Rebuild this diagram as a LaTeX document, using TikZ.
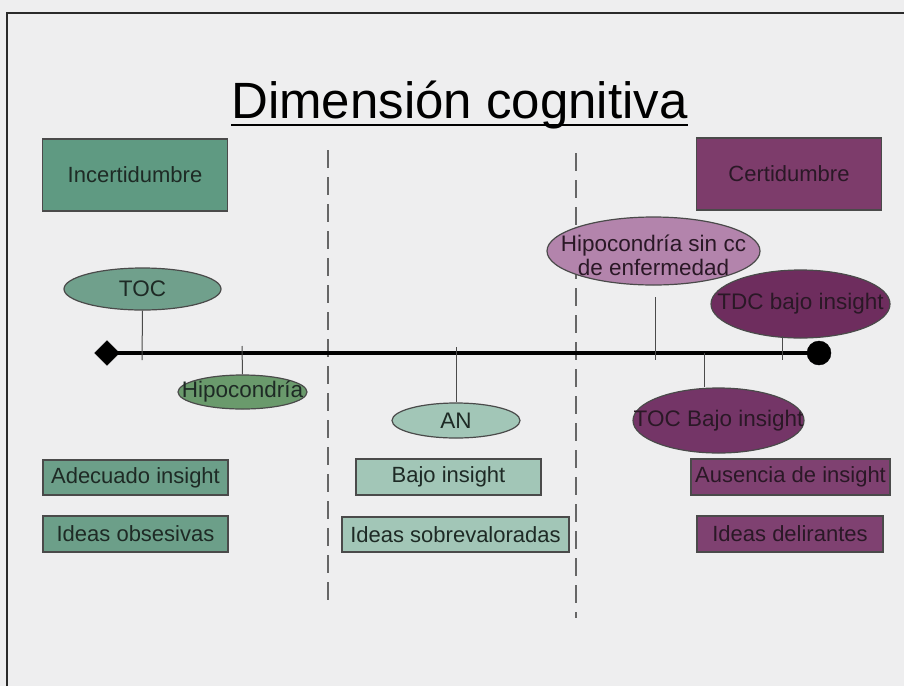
\documentclass[tikz,border=0pt]{standalone}
\usepackage{fontspec}
\setmainfont{Liberation Sans}
\usetikzlibrary{shapes.geometric}
\definecolor{bg}{HTML}{EEEEEF}
\definecolor{frameline}{HTML}{2A2A2A}
\definecolor{edgegray}{HTML}{4A4A4A}
\definecolor{dashgray}{HTML}{666666}
\definecolor{greenbox}{HTML}{5F9A82}
\definecolor{greenrow}{HTML}{6C9F89}
\definecolor{greentoc}{HTML}{70A08C}
\definecolor{greenhip}{HTML}{6A9A6C}
\definecolor{tealpale}{HTML}{A2C6B7}
\definecolor{plumbox}{HTML}{7D3C6B}
\definecolor{plumpale}{HTML}{B384AC}
\definecolor{plumdark}{HTML}{6E2D5E}
\definecolor{plummid}{HTML}{743567}
\definecolor{plumrow}{HTML}{7F4171}
\definecolor{greentext}{HTML}{1E2A25}
\definecolor{plumtext}{HTML}{2A1826}
\begin{document}
\begin{tikzpicture}[x=1pt,y=-1pt,
  box/.style={rectangle, draw=edgegray, line width=1.2pt, inner sep=0pt,
    font=\fontsize{22}{26}\selectfont},
  oval/.style={ellipse, draw=edgegray, line width=1.2pt, inner sep=0pt},
  ovaltext/.style={font=\fontsize{22.5}{24}\selectfont, inner sep=0pt, align=center},
  link/.style={draw=edgegray, line width=1pt},
  divider/.style={draw=dashgray, line width=2.4pt, dash pattern=on 18pt off 9pt},
  endmark/.style={fill=black, draw=black, inner sep=0pt, minimum size=24pt}]

% page and frame
\fill[bg] (0,0) rectangle (904,686);
\useasboundingbox (0,0) rectangle (904,686);
\draw[frameline, line width=2pt] (7,686) -- (7,13) -- (904,13);

% title
\node[inner sep=0pt, anchor=base, font=\fontsize{51}{56}\selectfont, text=black]
  (title) at (459.5,118) {Dimensión cognitiva};
\draw[black, line width=2.5pt] ([yshift=-7pt]title.base west) -- ([yshift=-7pt]title.base east);

% vertical dividers
\coordinate (d1top) at (328,150);
\coordinate (d1bot) at (328,608);
\coordinate (d2top) at (576,153);
\coordinate (d2bot) at (576,618);
\draw[divider] (d1top) -- (d1bot);
\draw[divider] (d2top) -- (d2bot);

% extremes
\node[box, fill=greenbox, text=greentext, minimum width=185pt, minimum height=72pt]
  (inc) at (135,175) {Incertidumbre};
\node[box, fill=plumbox, text=plumtext, minimum width=185pt, minimum height=72pt]
  (cert) at (789,174) {Certidumbre};

% axis
\node[endmark, diamond, minimum size=25pt] (left) at (107,353) {};
\node[endmark, circle] (right) at (819,353) {};
\draw[black, line width=4.5pt] (left.center) -- (right.center);

% points on the axis
\coordinate (pToc) at (142,360);
\coordinate (pHip) at (242,346);
\coordinate (pAn) at (456,347);
\coordinate (pHsinA) at (655,297);
\coordinate (pHsinB) at (655,360);
\coordinate (pTdcA) at (782,336);
\coordinate (pTdcB) at (782,360);
\coordinate (pTocb) at (704,353);

% ovals
\node[oval, fill=greentoc, minimum width=157pt, minimum height=42pt] (toc) at (142.5,289) {};
\node[ovaltext, text=greentext] (toct) at (toc.center) {TOC};
\node[oval, fill=greenhip, minimum width=129pt, minimum height=34pt] (hip) at (242.5,392) {};
\node[ovaltext, text=greentext] (hipt) at (hip.center) {Hipocondría};
\node[oval, fill=tealpale, minimum width=128pt, minimum height=35pt] (an) at (456,420.5) {};
\node[ovaltext, text=greentext] (ant) at (an.center) {AN};
\node[oval, fill=plumpale, minimum width=213pt, minimum height=68pt] (hsin) at (653.5,251) {};
\node[ovaltext, text=plumtext] (hsint) at (653.5,255) {Hipocondría sin cc\\de enfermedad};
\node[oval, fill=plumdark, minimum width=179pt, minimum height=68pt] (tdc) at (800.5,304) {};
\node[ovaltext, text=plumtext] (tdct) at (tdc.center) {TDC bajo insight};
\node[oval, fill=plummid, minimum width=171pt, minimum height=65pt] (tocb) at (718.5,420.5) {};
\node[ovaltext, text=plumtext] (tocbt) at (tocb.center) {TOC Bajo insight};

% connectors
\draw[link] (toc.south) -- (pToc);
\draw[link] (pHip) -- (hip.north);
\draw[link] (pAn) -- (an.north);
\draw[link] (pHsinA) -- (pHsinB);
\draw[link] (pTdcA) -- (pTdcB);
\draw[link] (pTocb) -- (tocb.north -| pTocb);

% insight rows
\node[box, fill=greenrow, text=greentext, minimum width=185pt, minimum height=35pt]
  (adec) at (135.5,477.5) {Adecuado insight};
\node[box, fill=greenrow, text=greentext, minimum width=185pt, minimum height=36pt]
  (obs) at (135.5,534) {Ideas obsesivas};
\node[box, fill=tealpale, text=greentext, minimum width=185pt, minimum height=36pt]
  (bajo) at (448.5,477) {Bajo insight};
\node[box, fill=tealpale, text=greentext, minimum width=227pt, minimum height=35pt]
  (sobre) at (455.5,534.5) {Ideas sobrevaloradas};
\node[box, fill=plumrow, text=plumtext, minimum width=199pt, minimum height=36pt]
  (aus) at (790.5,477) {Ausencia de insight};
\node[box, fill=plumrow, text=plumtext, minimum width=186pt, minimum height=36pt]
  (delir) at (790,534) {Ideas delirantes};
\end{tikzpicture}
\end{document}
